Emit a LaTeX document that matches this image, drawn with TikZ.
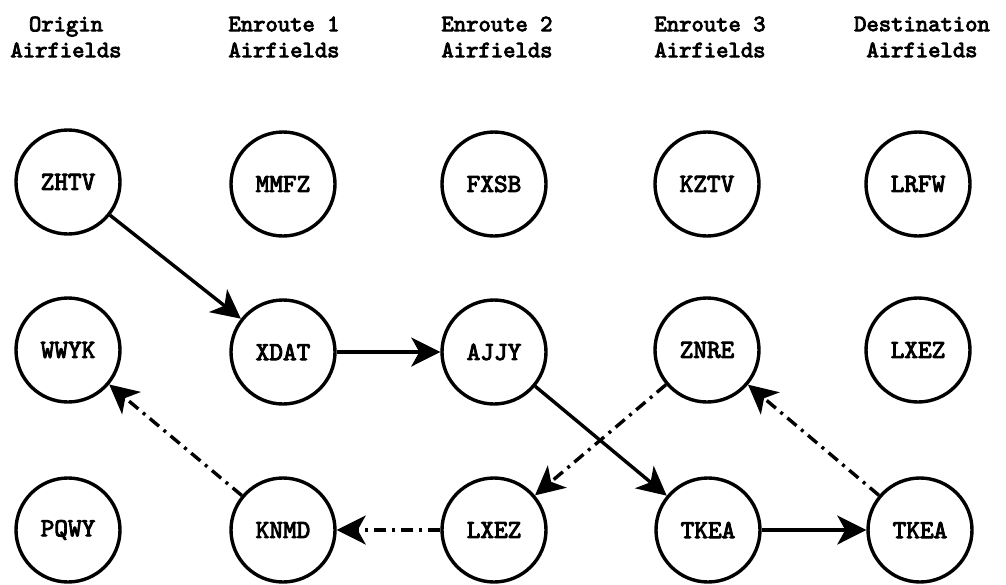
\documentclass[tikz,border=0pt]{standalone}
\usepackage{fontspec}
\newfontfamily\lblfont[FakeBold=3.5]{lmmono10-regular.otf}
\newfontfamily\hdrfont[FakeBold=3.5]{lmmono10-regular.otf}
\usetikzlibrary{arrows.meta}
\begin{document}
\begin{tikzpicture}[x=1pt,y=-1pt,
  field/.style={circle,draw,line width=3.4pt,minimum size=104pt,inner sep=0pt,
    font=\lblfont\fontsize{26}{26}\selectfont},
  hdr/.style={align=center,font=\hdrfont\fontsize{23.5}{26}\selectfont,inner sep=0pt},
  route/.style={line width=3.4pt,-{Stealth[length=29pt,width=29pt,inset=8pt]}},
  backroute/.style={route,dash pattern=on 12pt off 6pt on 3pt off 6pt}]
\useasboundingbox (0,0) rectangle (1006,584);
% headers
\node[hdr] (h1) at (66,37) {Origin\\Airfields};
\node[hdr] (h2) at (284,37) {Enroute 1\\Airfields};
\node[hdr] (h3) at (497,37) {Enroute 2\\Airfields};
\node[hdr] (h4) at (710,37) {Enroute 3\\Airfields};
\node[hdr] (h5) at (922,37) {Destination\\Airfields};
% row 1
\node[field] (zhtv) at (68,182) {ZHTV};
\node[field] (mmfz) at (283,184) {MMFZ};
\node[field] (fxsb) at (494,184) {FXSB};
\node[field] (kztv) at (707,184) {KZTV};
\node[field] (lrfw) at (918,184) {LRFW};
% row 2
\node[field] (wwyk) at (68,350) {WWYK};
\node[field] (xdat) at (283,352) {XDAT};
\node[field] (ajjy) at (494,352) {AJJY};
\node[field] (znre) at (707,350) {ZNRE};
\node[field] (lxezd) at (918,350) {LXEZ};
% row 3
\node[field] (pqwy) at (68,530) {PQWY};
\node[field] (knmd) at (283,530) {KNMD};
\node[field] (lxez) at (494,530) {LXEZ};
\node[field] (tkea) at (708,530) {TKEA};
\node[field] (tkead) at (920,530) {TKEA};
% routes
\draw[route] (zhtv) -- (xdat);
\draw[route] (xdat) -- (ajjy);
\draw[route] (ajjy) -- (tkea);
\draw[route] (tkea) -- (tkead);
\draw[backroute] (tkead) -- (znre);
\draw[backroute] (znre) -- (lxez);
\draw[backroute] (lxez) -- (knmd);
\draw[backroute] (knmd) -- (wwyk);
\end{tikzpicture}
\end{document}
